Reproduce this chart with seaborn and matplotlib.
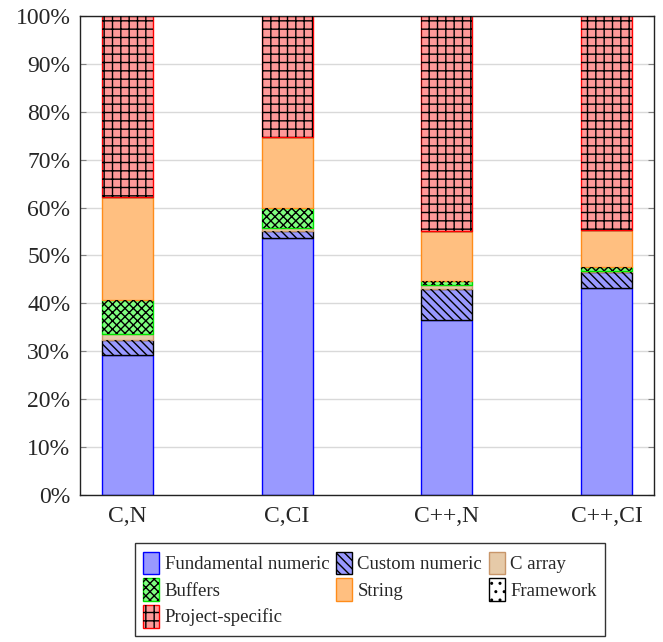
import matplotlib
matplotlib.use("Agg")
import matplotlib.pyplot as plt
from matplotlib.patches import Patch
from matplotlib.legend_handler import HandlerTuple
import seaborn as sns
import numpy as np

# values in percent of each build configuration
configs = ["C,N", "C,CI", "C++,N", "C++,CI"]
fundamental = [29.2, 53.6, 36.5, 43.2]
custom = [3.2, 1.5, 6.5, 3.4]
c_array = [1.2, 0.6, 0.8, 0.2]
buffers = [7.1, 4.2, 0.9, 0.8]
string = [21.5, 14.8, 10.4, 7.7]
framework = [0.0, 0.0, 0.0, 0.0]
project = [37.8, 25.3, 44.9, 44.7]

sns.set_style("white")
plt.rcParams["font.family"] = ["Liberation Serif", "DejaVu Serif"]
plt.rcParams["hatch.linewidth"] = 1.0

layers = [
    ("Fundamental numeric", fundamental, "#9999ff", "#0000ff", None),
    ("Custom numeric", custom, "#9999ff", "#000000", "\\\\\\\\"),
    ("C array", c_array, "#e6caa8", "#c8966a", None),
    ("Buffers", buffers, "#80ff80", "#00e000", "xxxx"),
    ("String", string, "#ffbf80", "#ff8c1a", None),
    ("Framework", framework, "#ffffff", "#000000", ".."),
    ("Project-specific", project, "#ff9999", "#ff0000", "++"),
]

fig = plt.figure(figsize=(6.63, 6.42), dpi=100)
ax = fig.add_axes([0.1207, 0.229, 0.8657, 0.7461])

bottom = np.zeros(len(configs))
handles = {}
for name, vals, fc, ec, hatch in layers:
    vals = np.array(vals)
    sns.barplot(x=configs, y=vals, bottom=bottom, width=0.32, color=fc,
                saturation=1, edgecolor=ec, linewidth=1.0, ax=ax, zorder=2)
    base = Patch(facecolor=fc, edgecolor=ec, linewidth=1.0)
    if hatch:
        sns.barplot(x=configs, y=vals, bottom=bottom, width=0.32, color="black",
                    saturation=1, facecolor="none", edgecolor="black",
                    linewidth=0, hatch=hatch, ax=ax, zorder=3)
        over = Patch(facecolor="none", edgecolor="black", linewidth=0, hatch=hatch)
        handles[name] = (base, over)
    else:
        handles[name] = base
    bottom = bottom + vals

ax.set_xlim(-0.297, 3.297)
ax.set_ylim(0, 100)
ax.set_yticks(np.arange(0, 101, 10))
ax.set_yticklabels([f"{v}%" for v in range(0, 101, 10)])
ax.yaxis.grid(True, color="#d9d9d9", linewidth=1.0, zorder=0)
ax.set_axisbelow(True)
ax.set_xlabel("")
ax.set_ylabel("")
ax.tick_params(axis="y", direction="in", left=True, right=True, length=4,
               color="#808080", labelsize=17, pad=7)
ax.tick_params(axis="x", length=0, labelsize=17, pad=8)
for s in ax.spines.values():
    s.set_color("#222222")
    s.set_linewidth(1.0)

order = ["Fundamental numeric", "Buffers", "Project-specific",
         "Custom numeric", "String", "C array", "Framework"]
leg = fig.legend([handles[n] for n in order], order, ncol=3,
                 loc="upper center", bbox_to_anchor=(0.558, 0.154),
                 bbox_transform=fig.transFigure, borderaxespad=0,
                 fontsize=13.5,
                 handler_map={tuple: HandlerTuple(ndivide=1)},
                 handlelength=0.85, handleheight=1.5, handletextpad=0.3,
                 columnspacing=0.35, labelspacing=0.2, borderpad=0.45,
                 frameon=True, fancybox=False, edgecolor="black")
leg.get_frame().set_linewidth(1.0)

fig.savefig("out.png", dpi=100)
